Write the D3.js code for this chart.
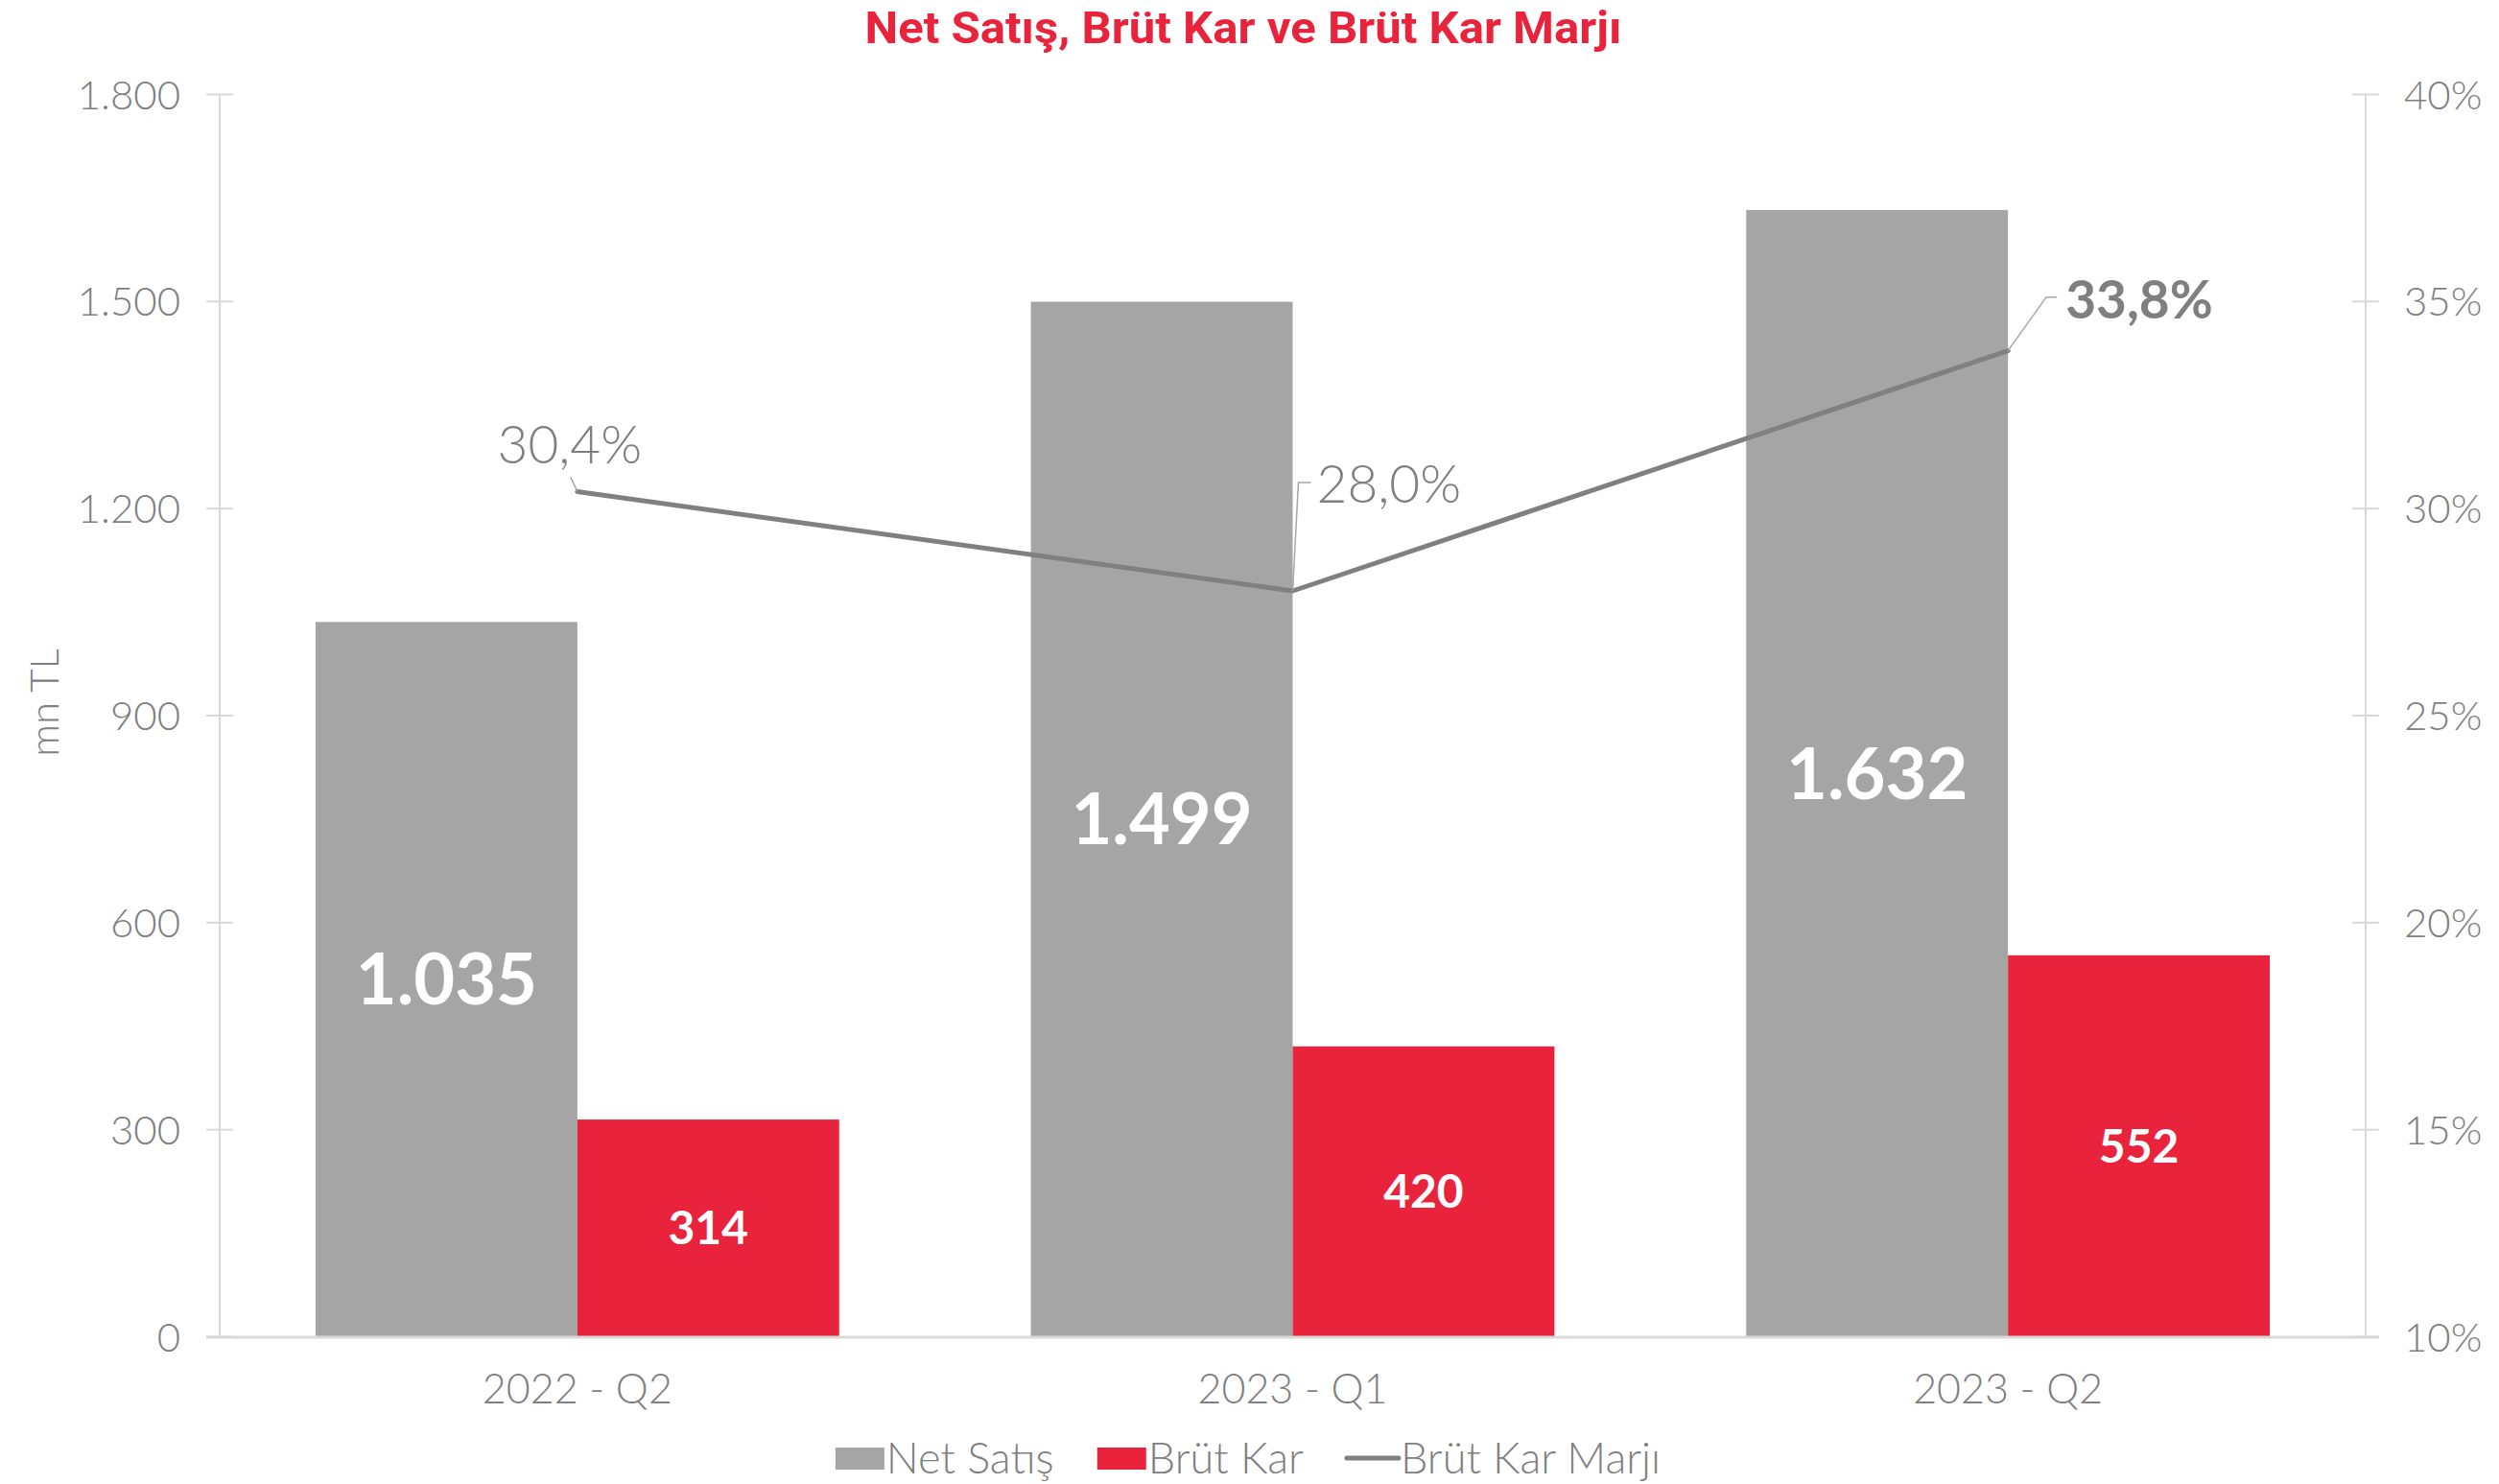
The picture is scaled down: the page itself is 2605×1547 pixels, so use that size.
<!DOCTYPE html>
<html>
<head>
<meta charset="utf-8">
<script src="https://cdn.jsdelivr.net/npm/d3@7"></script>
<style>
  body { margin: 0; background: #fff; }
  text { font-family: Lato, "Open Sans", sans-serif; }
</style>
</head>
<body>
<svg id="chart"></svg>
<script>
// data
var categories = ["2022 - Q2", "2023 - Q1", "2023 - Q2"];
var seriesNames = ["Net Satış", "Brüt Kar"];
var netSatis = [1035, 1499, 1632];
var brutKar = [314, 420, 552];
var brutKarMarji = [0.304, 0.280, 0.338];
var leftTicks = [0, 300, 600, 900, 1200, 1500, 1800];
var rightTicks = [0.10, 0.15, 0.20, 0.25, 0.30, 0.35, 0.40];

var W = 2605, H = 1547;
var margin = { top: 98, right: 139, bottom: 154, left: 229 },
  width = W - margin.left - margin.right,
  height = H - margin.top - margin.bottom;

var grey = "#a5a5a5", red = "#e9233b", lineGrey = "#808080", axisGrey = "#d9d9d9", textGrey = "#7f7f7f";

var tr = d3.formatLocale({ decimal: ",", thousands: ".", grouping: [3], currency: ["", ""] });
var fmtNum = tr.format(",d");
var fmtPct0 = tr.format(".0%");
var fmtPct1 = tr.format(".1%");

var svg = d3.select("#chart").attr("width", W).attr("height", H);
var g = svg.append("g").attr("transform", "translate(" + margin.left + "," + margin.top + ")");

var x0 = d3.scaleBand().domain(categories).range([0, width]).paddingInner(0.268).paddingOuter(0.134);
var x1 = d3.scaleBand().domain(seriesNames).range([0, x0.bandwidth()]);
var yL = d3.scaleLinear().domain([0, 1800]).range([height, 0]);
var yR = d3.scaleLinear().domain([0.10, 0.40]).range([height, 0]);
var xc = function (c) { return x0(c) + x0.bandwidth() / 2; };

// title
svg.append("text")
  .attr("x", 1296).attr("y", 45)
  .attr("text-anchor", "middle")
  .attr("textLength", 789).attr("lengthAdjust", "spacingAndGlyphs")
  .style("font-family", "Roboto, sans-serif")
  .style("font-weight", 700).style("font-size", "47px")
  .style("fill", red)
  .text("Net Satış, Brüt Kar ve Brüt Kar Marjı");

// left axis
var axL = g.append("g").call(d3.axisLeft(yL).tickValues(leftTicks).tickFormat(fmtNum).tickSize(14).tickPadding(0));
axL.select(".domain").attr("stroke", axisGrey).attr("stroke-width", 2).attr("d", "M0," + height + "V0");
axL.selectAll(".tick line").attr("stroke", axisGrey).attr("stroke-width", 2).attr("x1", -14).attr("x2", 14);
axL.selectAll(".tick text").attr("x", -41).attr("dy", "0.36em")
  .style("font-size", "42px").style("font-weight", 300).style("fill", textGrey).style("font-family", "Lato, sans-serif");

// right axis
var axR = g.append("g").attr("transform", "translate(" + width + ",0)")
  .call(d3.axisRight(yR).tickValues(rightTicks).tickFormat(fmtPct0).tickSize(14).tickPadding(0));
axR.select(".domain").attr("stroke", axisGrey).attr("stroke-width", 2).attr("d", "M0," + height + "V0");
axR.selectAll(".tick line").attr("stroke", axisGrey).attr("stroke-width", 2).attr("x1", -14).attr("x2", 14);
axR.selectAll(".tick text").attr("x", 40).attr("dy", "0.36em")
  .style("font-size", "42px").style("font-weight", 300).style("fill", textGrey).style("font-family", "Lato, sans-serif");

// y title
g.append("text")
  .attr("transform", "translate(" + (47 - margin.left + 14) + "," + (height / 2 - 13) + ") rotate(-90)")
  .attr("text-anchor", "middle")
  .style("font-size", "42px").style("font-weight", 300).style("fill", textGrey)
  .text("mn TL");

// bars
var rows = categories.map(function (c, i) {
  return { cat: c, values: [{ s: seriesNames[0], v: netSatis[i] }, { s: seriesNames[1], v: brutKar[i] }] };
});
var colors = d3.scaleOrdinal().domain(seriesNames).range([grey, red]);

var groups = g.selectAll(".grp").data(rows).enter().append("g")
  .attr("class", "grp")
  .attr("transform", function (d) { return "translate(" + x0(d.cat) + ",0)"; });

groups.selectAll("rect").data(function (d) { return d.values; }).enter().append("rect")
  .attr("x", function (d) { return x1(d.s); })
  .attr("width", x1.bandwidth())
  .attr("y", function (d) { return yL(d.v); })
  .attr("height", function (d) { return height - yL(d.v); })
  .attr("fill", function (d) { return colors(d.s); });

groups.selectAll(".vl").data(function (d) { return d.values; }).enter().append("text")
  .attr("class", "vl")
  .attr("x", function (d) { return x1(d.s) + x1.bandwidth() / 2; })
  .attr("y", function (d) { return (yL(d.v) + height) / 2; })
  .attr("dy", "0.36em")
  .attr("text-anchor", "middle")
  .style("fill", "#fff").style("font-weight", 700)
  .style("font-size", function (d) { return d.s === seriesNames[0] ? "74px" : "48px"; })
  .text(function (d) { return fmtNum(d.v); });

// x axis baseline + labels
g.append("line")
  .attr("x1", -14).attr("x2", width + 14)
  .attr("y1", height + 1).attr("y2", height + 1)
  .attr("stroke", axisGrey).attr("stroke-width", 3);

g.selectAll(".xl").data(categories).enter().append("text")
  .attr("class", "xl")
  .attr("x", xc).attr("y", height + 70)
  .attr("text-anchor", "middle")
  .style("font-size", "43px").style("font-weight", 300).style("fill", textGrey)
  .text(function (d) { return d; });

// margin line
var line = d3.line()
  .x(function (d, i) { return xc(categories[i]); })
  .y(function (d) { return yR(d); });

g.append("path").datum(brutKarMarji)
  .attr("d", line)
  .attr("fill", "none").attr("stroke", lineGrey).attr("stroke-width", 5)
  .attr("stroke-linejoin", "round").attr("stroke-linecap", "round");

// margin labels with leader lines (offsets from point)
var lblLayout = [
  { lead: [[-7, -15]], tx: -8, ty: -29, anchor: "middle", bold: false },
  { lead: [[6, -113], [19, -113]], tx: 25, ty: -92, anchor: "start", bold: false },
  { lead: [[40, -56], [51, -56]], tx: 60, ty: -34, anchor: "start", bold: true }
];

brutKarMarji.forEach(function (v, i) {
  var px = xc(categories[i]), py = yR(v), L = lblLayout[i];
  var pts = [[px, py]].concat(L.lead.map(function (p) { return [px + p[0], py + p[1]]; }));
  g.append("path")
    .attr("d", d3.line()(pts))
    .attr("fill", "none").attr("stroke", "#a6a6a6").attr("stroke-width", 1.5);
  g.append("text")
    .attr("x", px + L.tx).attr("y", py + L.ty)
    .attr("text-anchor", L.anchor)
    .style("font-size", "55px")
    .style("font-weight", L.bold ? 700 : 300)
    .style("fill", textGrey)
    .text(fmtPct1(v));
});

// legend
var legend = svg.append("g").attr("transform", "translate(0,1520)");
var legItems = [
  { name: seriesNames[0], type: "rect", color: grey },
  { name: seriesNames[1], type: "rect", color: red },
  { name: "Brüt Kar Marjı", type: "line", color: lineGrey }
];
var cx = 0;
legItems.forEach(function (it) {
  var li = legend.append("g");
  if (it.type === "rect") {
    li.append("rect").attr("x", 0).attr("y", -11).attr("width", 51).attr("height", 23).attr("fill", it.color);
  } else {
    li.append("line").attr("x1", 0).attr("x2", 54).attr("y1", 0).attr("y2", 0)
      .attr("stroke", it.color).attr("stroke-width", 5).attr("stroke-linecap", "round");
  }
  var off = it.type === "rect" ? 53 : 56;
  var t = li.append("text").attr("x", off).attr("y", 16)
    .style("font-size", "45px").style("font-weight", 300).style("fill", textGrey).text(it.name);
  var w = off + t.node().getComputedTextLength();
  li.attr("transform", "translate(" + cx + ",0)");
  cx += w + 45;
});
var totalW = cx - 45;
legend.attr("transform", "translate(" + (1301 - totalW / 2) + ",1520)");
</script>
</body>
</html>
